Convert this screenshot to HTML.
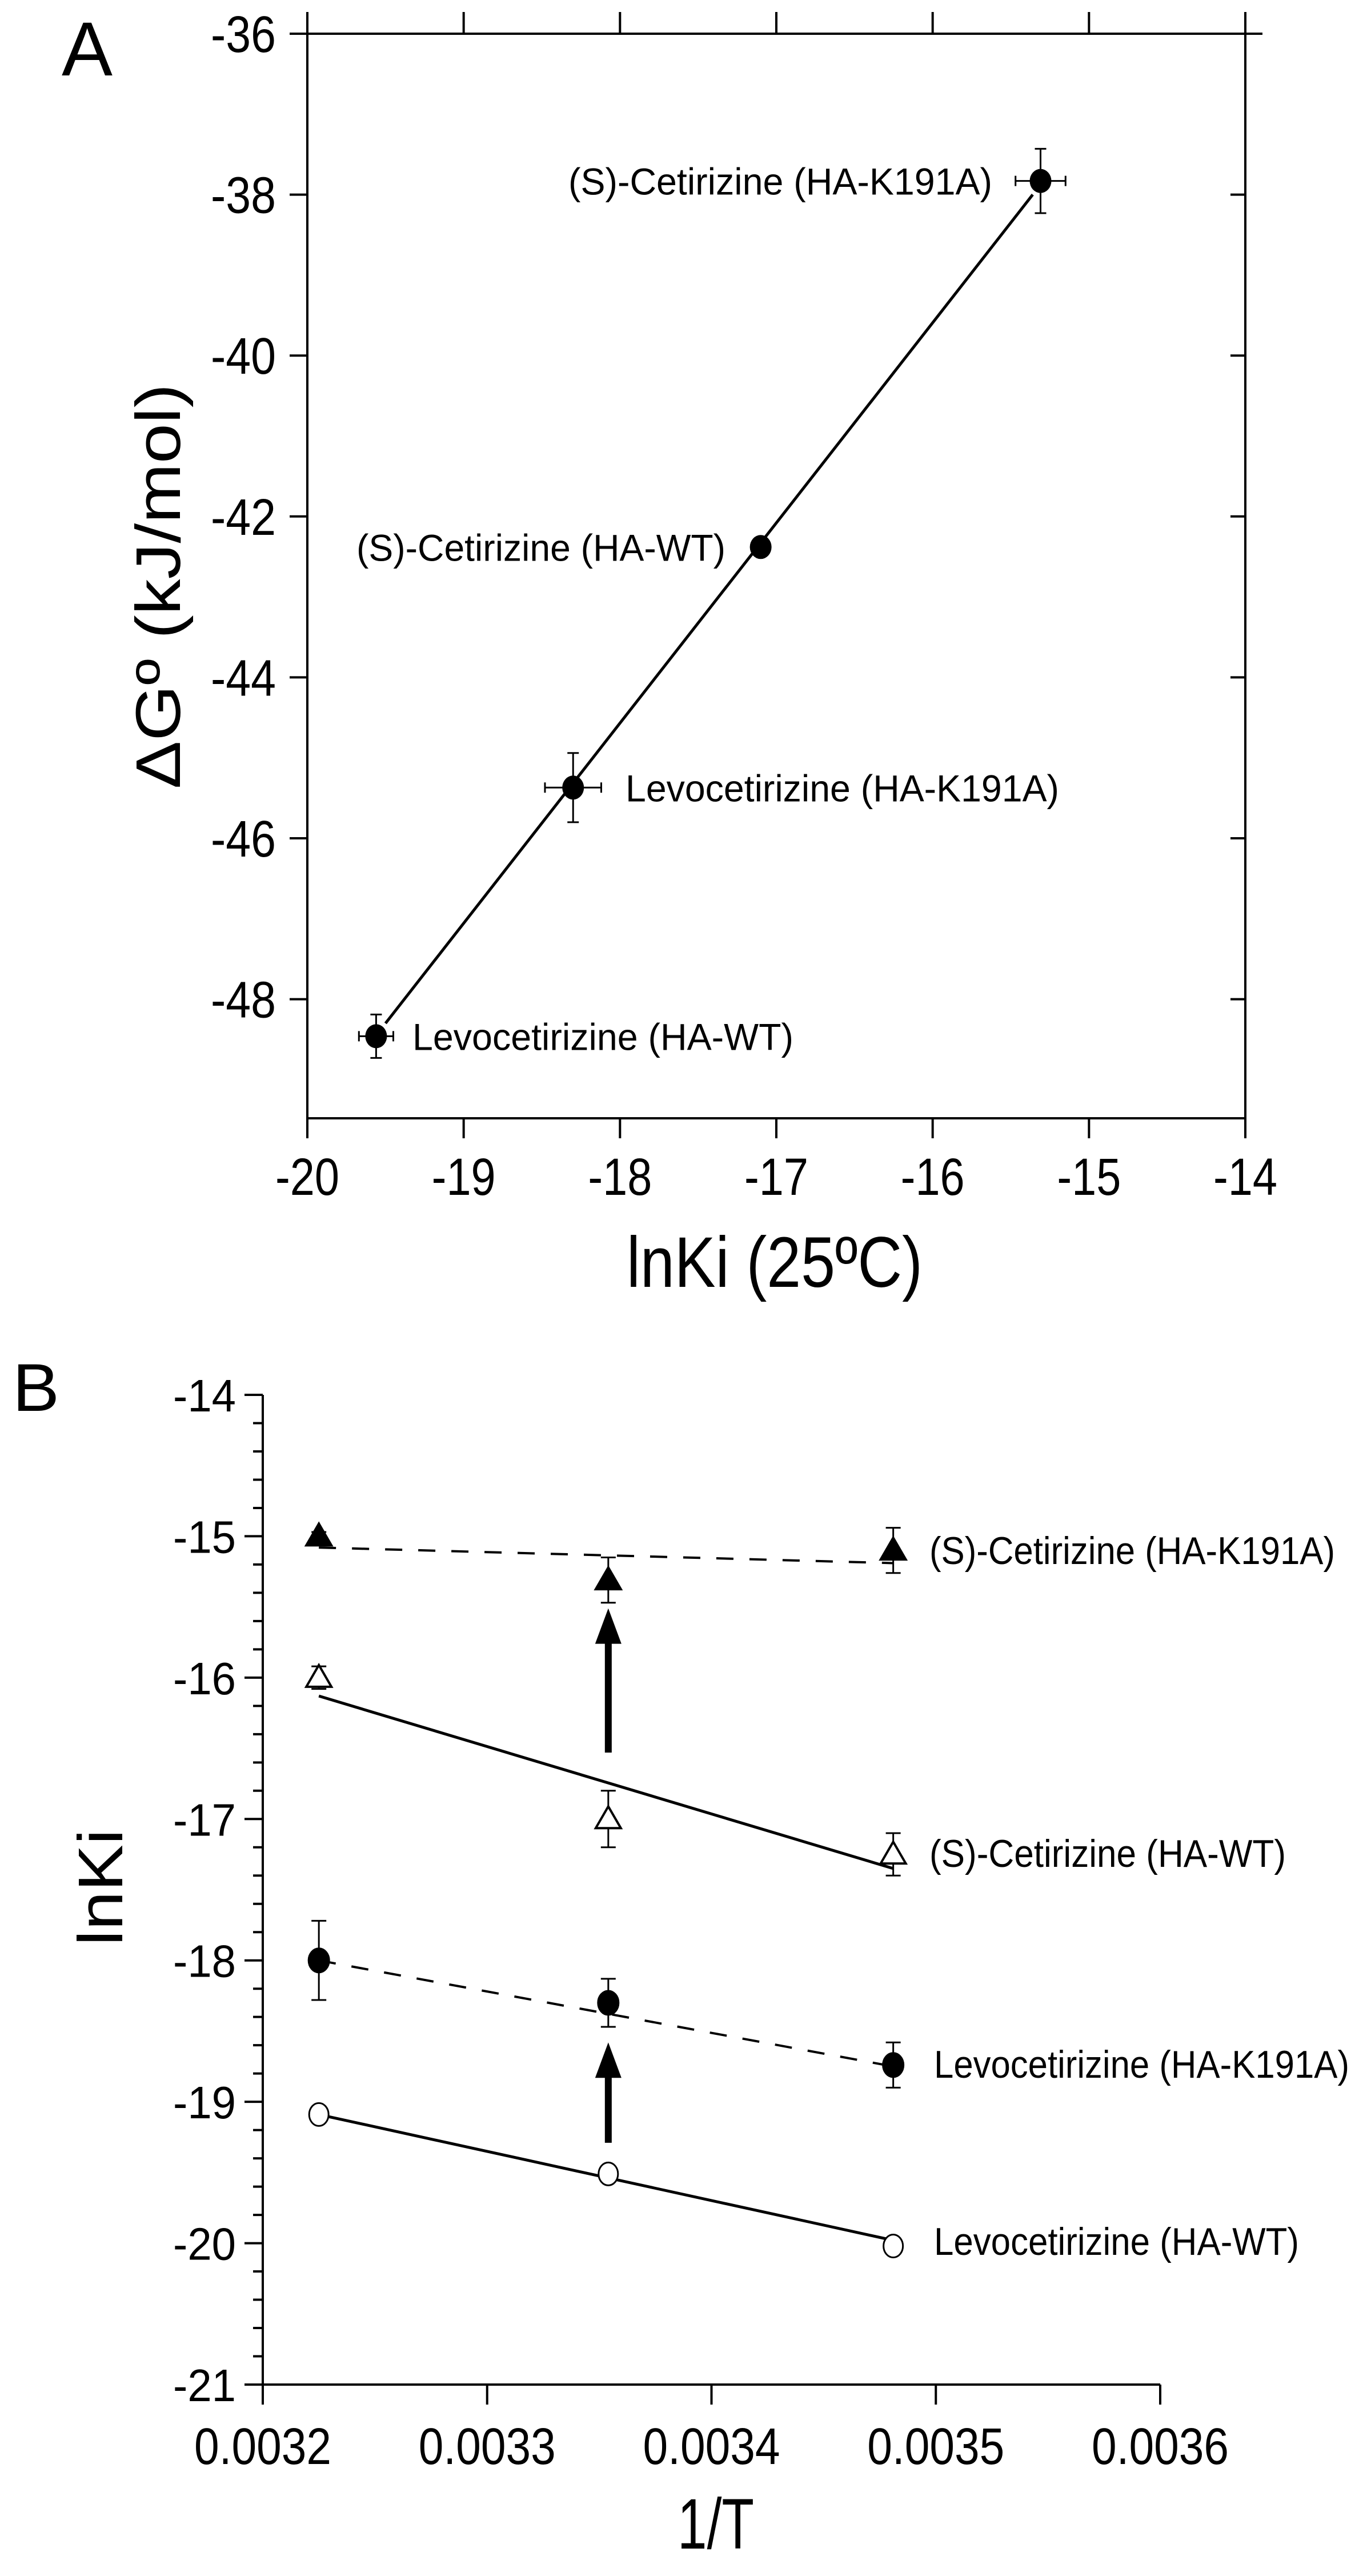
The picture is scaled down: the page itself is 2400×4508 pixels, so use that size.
<!DOCTYPE html>
<html><head><meta charset="utf-8"><style>
html,body{margin:0;padding:0;background:#fff;}
svg{display:block;}
text{font-family:"Liberation Sans",Arial,sans-serif;fill:#000;}
</style></head><body>
<svg id="fig" width="2400" height="4508" viewBox="0 0 2400 4508" xmlns="http://www.w3.org/2000/svg">
<g id="pa"></g>
<g id="pb"></g>
</svg>
<script>
// ---------- Panel A data ----------
const aXTicks = [-20,-19,-18,-17,-16,-15,-14];
const aYTicks = [-36,-38,-40,-42,-44,-46,-48];
const aNames = ["(S)-Cetirizine (HA-K191A)","(S)-Cetirizine (HA-WT)","Levocetirizine (HA-K191A)","Levocetirizine (HA-WT)"];
const aLnKi = [-15.31,-17.10,-18.30,-19.56];
const aDG = [-37.83,-42.38,-45.37,-48.46];
const aXErr = [0.16,0,0.18,0.11];
const aYErr = [0.40,0,0.43,0.27];
const aFitX = [-19.50,-15.36];
const aFitY = [-48.30,-38.00];

// ---------- Panel B data ----------
const bXTicks = [0.0032,0.0033,0.0034,0.0035,0.0036];
const bXTickLabels = ["0.0032","0.0033","0.0034","0.0035","0.0036"];
const bYTicks = [-14,-15,-16,-17,-18,-19,-20,-21];
const bInvT = [0.003225,0.003354,0.003481];
const bSK191A = [-15.00,-15.31,-15.10];
const bSK191AErr = [0.03,0.16,0.16];
const bSWT = [-16.00,-17.00,-17.25];
const bSWTErr = [0.08,0.20,0.15];
const bLK191A = [-18.00,-18.30,-18.74];
const bLK191AErr = [0.28,0.17,0.16];
const bLWT = [-19.09,-19.51,-20.02];
const bLWTErr = [0,0,0];
const bFitSK191A = [-15.08,-15.19];
const bFitSWT = [-16.13,-17.35];
const bFitLK191A = [-18.00,-18.75];
const bFitLWT = [-19.09,-19.98];
const bArrowFrom = [-16.53,-19.29];
const bArrowTo = [-15.51,-18.58];
const bNames = ["(S)-Cetirizine (HA-K191A)","(S)-Cetirizine (HA-WT)","Levocetirizine (HA-K191A)","Levocetirizine (HA-WT)"];

const NS="http://www.w3.org/2000/svg";
function mk(parent,tag,attrs,txt){const e=document.createElementNS(NS,tag);for(const k in attrs)e.setAttribute(k,attrs[k]);if(txt!==undefined)e.textContent=txt;parent.appendChild(e);return e;}

// ===== Panel A =====
const A=document.getElementById('pa');
const axL=538,axR=2180,ayT=59,ayB=1957;
const ax=v=>axL+(v+20)*(axR-axL)/6;
const ay=v=>ayT+(-36-v)*140.8;
let e;
e=mk(A,'text',{x:108,y:132,'font-size':134,textLength:89,lengthAdjust:'spacingAndGlyphs'},'A');


e=mk(A,'rect',{x:axL,y:ayT,width:axR-axL,height:ayB-ayT,fill:'none',stroke:'#000','stroke-width':4});


aXTicks.forEach((t,i)=>{
  const x=ax(t);
  e=mk(A,'line',{x1:x,y1:ayB,x2:x,y2:ayB+35,stroke:'#000','stroke-width':4});
  
  
  e=mk(A,'line',{x1:x,y1:ayT,x2:x,y2:ayT-38,stroke:'#000','stroke-width':4});
  
  
  e=mk(A,'text',{x:x,y:2091,'font-size':92,'text-anchor':'middle',textLength:112,lengthAdjust:'spacingAndGlyphs'},String(t));
  
  
});
aYTicks.forEach((t,i)=>{
  const y=ay(t);
  e=mk(A,'line',{x1:axL,y1:y,x2:axL-31,y2:y,stroke:'#000','stroke-width':4});
  
  
  if(i===0){e=mk(A,'line',{x1:axR,y1:y,x2:axR+30,y2:y,stroke:'#000','stroke-width':4});}
  else{e=mk(A,'line',{x1:axR,y1:y,x2:axR-26,y2:y,stroke:'#000','stroke-width':4});}
  
  
  e=mk(A,'text',{x:483,y:y+32,'font-size':90,'text-anchor':'end',textLength:114,lengthAdjust:'spacingAndGlyphs'},String(t));
  
  
});
e=mk(A,'text',{x:1097,y:2252,'font-size':125,textLength:518,lengthAdjust:'spacingAndGlyphs'},'lnKi (25ºC)');


e=mk(A,'text',{x:0,y:0,'font-size':110,'text-anchor':'middle',textLength:709,lengthAdjust:'spacingAndGlyphs',transform:'translate(315,1026) rotate(-90)'},'ΔGº (kJ/mol)');


e=mk(A,'line',{x1:ax(aFitX[0]),y1:ay(aFitY[0]),x2:ax(aFitX[1]),y2:ay(aFitY[1]),stroke:'#000','stroke-width':5});


const aLabPos=[[995,742,'start'],[624,646,'start'],[1095,759,'start'],[722,667,'start']];
const aLabDX=[-75,-75,70,64];
aLnKi.forEach((v,i)=>{
  const x=ax(v),y=ay(aDG[i]);
  if(aXErr[i]>0){
    const x1=ax(v-aXErr[i]),x2=ax(v+aXErr[i]);
    e=mk(A,'path',{d:`M${x1},${y}H${x2}M${x1},${y-9}V${y+9}M${x2},${y-9}V${y+9}`,stroke:'#000','stroke-width':3,fill:'none'});
    
    
  }
  if(aYErr[i]>0){
    const y1=ay(aDG[i]+aYErr[i]),y2=ay(aDG[i]-aYErr[i]);
    e=mk(A,'path',{d:`M${x},${y1}V${y2}M${x-10},${y1}H${x+10}M${x-10},${y2}H${x+10}`,stroke:'#000','stroke-width':3,fill:'none'});
    
    
  }
  e=mk(A,'ellipse',{cx:x,cy:y,rx:19,ry:21,fill:'#000'});
  
  
  const lp=aLabPos[i];
  e=mk(A,'text',{x:lp[0],y:y+24,'font-size':66,textLength:lp[1],lengthAdjust:'spacingAndGlyphs'},aNames[i]);
  
  
});

// ===== Panel B =====
const B=document.getElementById('pb');
const bxL=460,bxR=2031,byT=2441,byB=4173;
const bx=v=>bxL+(v-0.0032)*(bxR-bxL)/0.0004;
const by=v=>byT+(-14-v)*(byB-byT)/7;
e=mk(B,'text',{x:22,y:2469,'font-size':118,textLength:82,lengthAdjust:'spacingAndGlyphs'},'B');


e=mk(B,'path',{d:`M${bxL},${byT}V${byB}H${bxR}`,stroke:'#000','stroke-width':4,fill:'none'});


for(let k=0;k<=35;k++){
  const v=-14-k*0.2;const y=by(v);const major=(k%5===0);
  e=mk(B,'line',{x1:bxL,y1:y,x2:bxL-(major?32:17),y2:y,stroke:'#000','stroke-width':4});
  
  
}
bYTicks.forEach(t=>{
  e=mk(B,'text',{x:413,y:by(t)+29,'font-size':80,'text-anchor':'end',textLength:110,lengthAdjust:'spacingAndGlyphs'},String(t));
  
  
});
bXTicks.forEach((t,i)=>{
  const x=bx(t);
  e=mk(B,'line',{x1:x,y1:byB,x2:x,y2:byB+35,stroke:'#000','stroke-width':4});
  
  
  e=mk(B,'text',{x:x,y:4312,'font-size':90,'text-anchor':'middle',textLength:240,lengthAdjust:'spacingAndGlyphs'},bXTickLabels[i]);
  
  
});
e=mk(B,'text',{x:1253,y:4460,'font-size':125,'text-anchor':'middle',textLength:134,lengthAdjust:'spacingAndGlyphs'},'1/T');


e=mk(B,'text',{x:0,y:0,'font-size':110,'text-anchor':'middle',textLength:204,lengthAdjust:'spacingAndGlyphs',transform:'translate(214,3303) rotate(-90)'},'lnKi');



const series=[
 {vals:bSK191A,err:bSK191AErr,fit:bFitSK191A,dash:true,marker:'tri',fill:'#000',name:'s-cetirizine-k191a'},
 {vals:bSWT,err:bSWTErr,fit:bFitSWT,dash:false,marker:'tri',fill:'#fff',name:'s-cetirizine-wt'},
 {vals:bLK191A,err:bLK191AErr,fit:bFitLK191A,dash:true,marker:'circ',fill:'#000',name:'levocetirizine-k191a'},
 {vals:bLWT,err:bLWTErr,fit:bFitLWT,dash:false,marker:'circ',fill:'#fff',name:'levocetirizine-wt'}
];
const bLabX=[1627,1627,1635,1635];
const bLabW=[710,624,727,639];
series.forEach((s,si)=>{
  const x1=bx(bInvT[0]),x2=bx(bInvT[bInvT.length-1]);
  e=mk(B,'line',{x1:x1,y1:by(s.fit[0]),x2:x2,y2:by(s.fit[1]),stroke:'#000','stroke-width':s.dash?4:5,'stroke-dasharray':s.dash?'30 28':'none'});
  
  
  s.vals.forEach((v,i)=>{
    const x=bx(bInvT[i]),y=by(v);
    if(s.err[i]>0){
      const ya=by(v+s.err[i]),yb=by(v-s.err[i]);
      e=mk(B,'path',{d:`M${x},${ya}V${yb}M${x-13},${ya}H${x+13}M${x-13},${yb}H${x+13}`,stroke:'#000','stroke-width':3,fill:'none'});
      
      
    }
    if(s.marker==='tri'){
      e=mk(B,'path',{d:`M${x},${y-22}L${x+22},${y+16}L${x-22},${y+16}Z`,fill:s.fill,stroke:'#000','stroke-width':4});
    }else{
      e=mk(B,'ellipse',{cx:x,cy:y,rx:s.fill==='#000'?19:17,ry:s.fill==='#000'?22:20,fill:s.fill,stroke:'#000','stroke-width':s.fill==='#000'?1:3});
    }
    
    
  });
  const ly=by(s.vals[s.vals.length-1]);
  e=mk(B,'text',{x:bLabX[si],y:(si===0?2713:si===1?3243:si===2?3612:3922)+24,'font-size':68,textLength:bLabW[si],lengthAdjust:'spacingAndGlyphs'},bNames[si]);
  
  
});
bArrowFrom.forEach((v,i)=>{
  const x=bx(bInvT[1]);const yb=by(v),yt=by(bArrowTo[i]);
  e=mk(B,'path',{d:`M${x-6},${yb}V${yt+62}H${x-23}L${x},${yt}L${x+23},${yt+62}H${x+6}V${yb}Z`,fill:'#000'});
  
  
});
</script>
</body></html>
